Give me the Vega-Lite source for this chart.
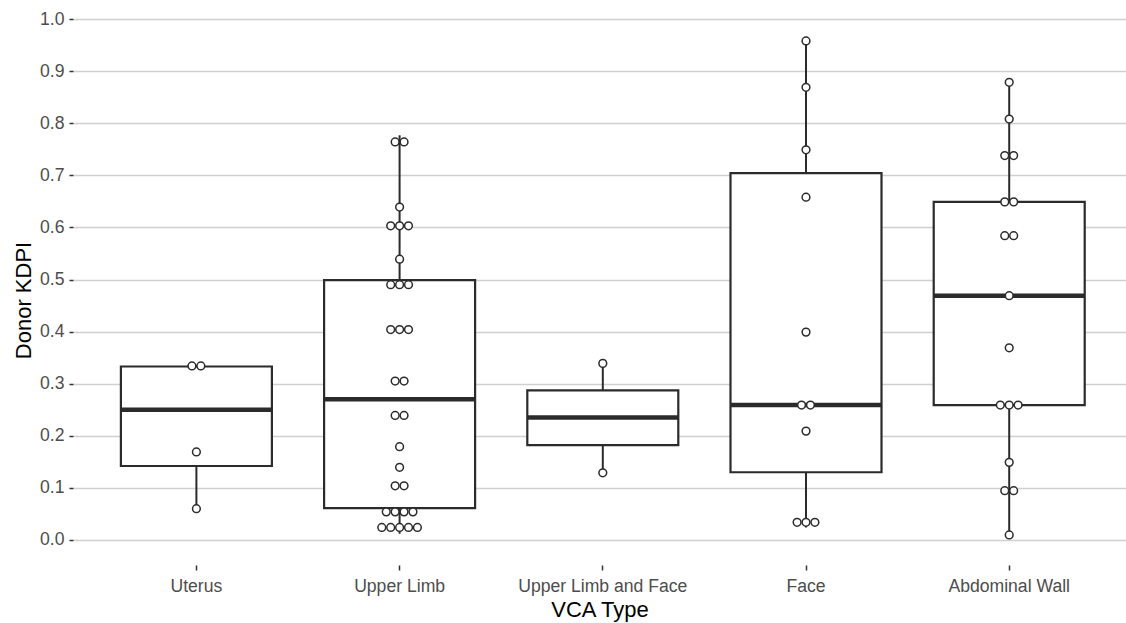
{
  "$schema": "https://vega.github.io/schema/vega-lite/v6.json",
  "width": 1053,
  "height": 565,
  "autosize": {"type": "none"},
  "padding": {"left": 73, "top": 0, "right": 0, "bottom": 58},
  "background": "white",
  "config": {"view": {"stroke": null}, "font": "Liberation Sans"},
  "datasets": {
    "boxes": [
      {"type": "Uterus", "lower": 0.06, "q1": 0.142, "median": 0.25, "q3": 0.333, "upper": 0.336},
      {"type": "Upper Limb", "lower": 0.012, "q1": 0.061, "median": 0.27, "q3": 0.499, "upper": 0.777},
      {"type": "Upper Limb and Face", "lower": 0.129, "q1": 0.182, "median": 0.235, "q3": 0.287, "upper": 0.339},
      {"type": "Face", "lower": 0.024, "q1": 0.13, "median": 0.259, "q3": 0.704, "upper": 0.958},
      {"type": "Abdominal Wall", "lower": 0.0096, "q1": 0.259, "median": 0.469, "q3": 0.649, "upper": 0.8785}
    ],
    "points": [
      {"type": "Uterus", "kdpi": 0.334}, {"type": "Uterus", "kdpi": 0.334}, {"type": "Uterus", "kdpi": 0.169}, {"type": "Uterus", "kdpi": 0.06},
      {"type": "Upper Limb", "kdpi": 0.764}, {"type": "Upper Limb", "kdpi": 0.764},
      {"type": "Upper Limb", "kdpi": 0.639},
      {"type": "Upper Limb", "kdpi": 0.603}, {"type": "Upper Limb", "kdpi": 0.603}, {"type": "Upper Limb", "kdpi": 0.603},
      {"type": "Upper Limb", "kdpi": 0.539},
      {"type": "Upper Limb", "kdpi": 0.49}, {"type": "Upper Limb", "kdpi": 0.49}, {"type": "Upper Limb", "kdpi": 0.49},
      {"type": "Upper Limb", "kdpi": 0.404}, {"type": "Upper Limb", "kdpi": 0.404}, {"type": "Upper Limb", "kdpi": 0.404},
      {"type": "Upper Limb", "kdpi": 0.305}, {"type": "Upper Limb", "kdpi": 0.305},
      {"type": "Upper Limb", "kdpi": 0.239}, {"type": "Upper Limb", "kdpi": 0.239},
      {"type": "Upper Limb", "kdpi": 0.179},
      {"type": "Upper Limb", "kdpi": 0.1395},
      {"type": "Upper Limb", "kdpi": 0.104}, {"type": "Upper Limb", "kdpi": 0.104},
      {"type": "Upper Limb", "kdpi": 0.054}, {"type": "Upper Limb", "kdpi": 0.054}, {"type": "Upper Limb", "kdpi": 0.054}, {"type": "Upper Limb", "kdpi": 0.054},
      {"type": "Upper Limb", "kdpi": 0.024}, {"type": "Upper Limb", "kdpi": 0.024}, {"type": "Upper Limb", "kdpi": 0.024}, {"type": "Upper Limb", "kdpi": 0.024}, {"type": "Upper Limb", "kdpi": 0.024},
      {"type": "Upper Limb and Face", "kdpi": 0.339}, {"type": "Upper Limb and Face", "kdpi": 0.129},
      {"type": "Face", "kdpi": 0.958}, {"type": "Face", "kdpi": 0.869}, {"type": "Face", "kdpi": 0.749}, {"type": "Face", "kdpi": 0.658},
      {"type": "Face", "kdpi": 0.399}, {"type": "Face", "kdpi": 0.259}, {"type": "Face", "kdpi": 0.259}, {"type": "Face", "kdpi": 0.209},
      {"type": "Face", "kdpi": 0.034}, {"type": "Face", "kdpi": 0.034}, {"type": "Face", "kdpi": 0.034},
      {"type": "Abdominal Wall", "kdpi": 0.8785}, {"type": "Abdominal Wall", "kdpi": 0.808},
      {"type": "Abdominal Wall", "kdpi": 0.738}, {"type": "Abdominal Wall", "kdpi": 0.738},
      {"type": "Abdominal Wall", "kdpi": 0.649}, {"type": "Abdominal Wall", "kdpi": 0.649},
      {"type": "Abdominal Wall", "kdpi": 0.584}, {"type": "Abdominal Wall", "kdpi": 0.584},
      {"type": "Abdominal Wall", "kdpi": 0.469}, {"type": "Abdominal Wall", "kdpi": 0.369},
      {"type": "Abdominal Wall", "kdpi": 0.259}, {"type": "Abdominal Wall", "kdpi": 0.259}, {"type": "Abdominal Wall", "kdpi": 0.259},
      {"type": "Abdominal Wall", "kdpi": 0.149},
      {"type": "Abdominal Wall", "kdpi": 0.0946}, {"type": "Abdominal Wall", "kdpi": 0.0946},
      {"type": "Abdominal Wall", "kdpi": 0.0096}
    ]
  },
  "encoding": {
    "x": {
      "field": "type",
      "type": "nominal",
      "title": "VCA Type",
      "sort": ["Uterus", "Upper Limb", "Upper Limb and Face", "Face", "Abdominal Wall"],
      "scale": {"type": "band", "paddingInner": 0.25, "paddingOuter": 0.216, "align": 0.5376},
      "axis": {
        "domain": false,
        "grid": false,
        "labelAngle": 0,
        "tickSize": 5,
        "tickColor": "#333333",
        "tickWidth": 1.5,
        "labelFontSize": 17.6,
        "labelColor": "#4d4d4d",
        "labelPadding": 7,
        "titleFontSize": 22,
        "titleColor": "#000000",
        "titleFontWeight": "normal",
        "titleBaseline": "alphabetic",
        "titleY": 51
      }
    }
  },
  "layer": [
    {
      "data": {"name": "boxes"},
      "mark": {"type": "rule", "stroke": "#2b2b2b", "strokeWidth": 2},
      "encoding": {
        "y": {
          "field": "lower",
          "type": "quantitative",
          "title": "Donor KDPI",
          "scale": {"domain": [-0.048, 1.0365], "nice": false, "zero": false},
          "axis": {
            "values": [0, 0.05, 0.1, 0.15, 0.2, 0.25, 0.3, 0.35, 0.4, 0.45, 0.5, 0.55, 0.6, 0.65, 0.7, 0.75, 0.8, 0.85, 0.9, 0.95, 1.0],
            "labelExpr": "round(datum.value * 20) % 2 == 0 ? format(datum.value, '.1f') : ''",
            "grid": true,
            "gridColor": {"condition": {"test": "round(datum.value * 20) % 2 == 1", "value": "#e8e8e8"}, "value": "#d0d0d0"},
            "gridWidth": {"condition": {"test": "round(datum.value * 20) % 2 == 1", "value": 1}, "value": 1.6},
            "tickColor": {"condition": {"test": "round(datum.value * 20) % 2 == 1", "value": "transparent"}, "value": "#333333"},
            "domain": false,
            "tickSize": 4,
            "tickWidth": 1.5,
            "labelFontSize": 17.6,
            "labelColor": "#4d4d4d",
            "labelPadding": 5,
            "titleFontSize": 22,
            "titleColor": "#000000",
            "titleFontWeight": "normal",
            "titleBaseline": "alphabetic",
            "titleAlign": "center",
            "titleX": -43,
            "titleY": 300
          }
        },
        "y2": {"field": "upper"}
      }
    },
    {
      "data": {"name": "boxes"},
      "mark": {"type": "bar", "fill": "white", "stroke": "#2b2b2b", "strokeWidth": 2.2, "width": 151},
      "encoding": {
        "y": {"field": "q1", "type": "quantitative", "title": "Donor KDPI", "scale": {"domain": [-0.048, 1.0365], "nice": false, "zero": false}},
        "y2": {"field": "q3"}
      }
    },
    {
      "data": {"name": "boxes"},
      "mark": {"type": "tick", "color": "#2b2b2b", "opacity": 1, "thickness": 4.5, "size": 151},
      "encoding": {
        "y": {"field": "median", "type": "quantitative", "title": "Donor KDPI", "scale": {"domain": [-0.048, 1.0365], "nice": false, "zero": false}}
      }
    },
    {
      "data": {"name": "points"},
      "transform": [
        {"window": [{"op": "row_number", "as": "rn"}], "groupby": ["type", "kdpi"]},
        {"joinaggregate": [{"op": "count", "as": "n"}], "groupby": ["type", "kdpi"]},
        {"calculate": "datum.rn - (datum.n + 1) / 2", "as": "off"}
      ],
      "mark": {"type": "point", "shape": "circle", "filled": true, "fill": "white", "stroke": "#2b2b2b", "strokeWidth": 1.5, "size": 60, "opacity": 1},
      "encoding": {
        "y": {"field": "kdpi", "type": "quantitative", "title": "Donor KDPI", "scale": {"domain": [-0.048, 1.0365], "nice": false, "zero": false}},
        "xOffset": {"field": "off", "type": "quantitative", "scale": {"domain": [-8.56, 8.56], "range": [0, 152.4]}}
      }
    }
  ]
}
